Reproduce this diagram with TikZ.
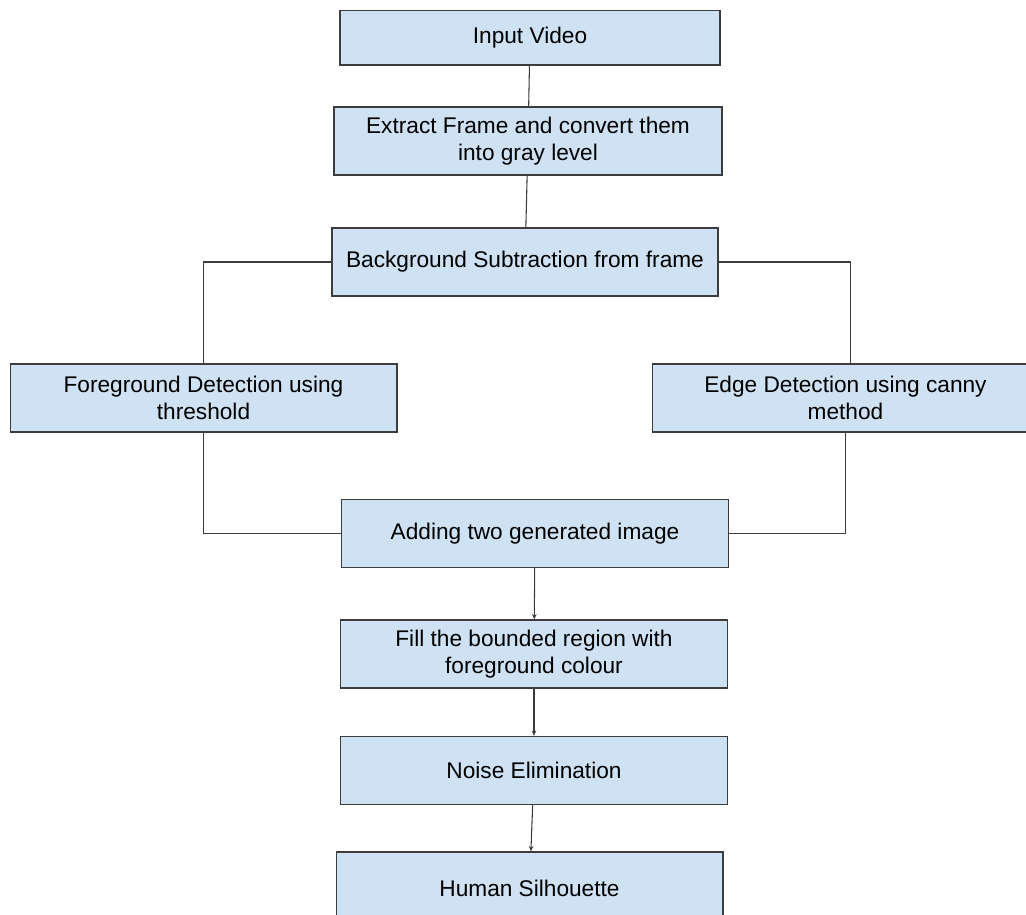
\documentclass[tikz,border=0pt]{standalone}
\usepackage{fontspec}
\setmainfont{Liberation Sans}
\usetikzlibrary{arrows.meta,positioning,shapes}
\definecolor{boxblue}{HTML}{CFE2F3}
\definecolor{linegray}{HTML}{3C3C3C}

\begin{document}
\begin{tikzpicture}[x=0.75pt,y=-0.75pt,
    stepbox/.style={rectangle, draw=linegray, fill=boxblue, line width=1pt,
      align=center, inner sep=0pt, minimum width=290pt, minimum height=51pt,
      font=\fontsize{17}{20}\selectfont},
    link/.style={draw=linegray, line width=0.8pt},
    flow/.style={link, -{Stealth[length=4pt,width=3.5pt]}}]
  \useasboundingbox (0,0) rectangle (1026,915);
  \clip (0,0) rectangle (1026,915);
  % boxes
  \node[stepbox, minimum width=285pt, minimum height=41pt] (input) at (530,37.5) {Input Video};
  \node[stepbox, minimum width=291pt] (extract) at (528,141) {Extract Frame and convert them\\into gray level};
  \node[stepbox, minimum width=289.5pt] (bgsub) at (525,262) {Background Subtraction from frame};
  \node[stepbox] (fg) at (203.5,398) {Foreground Detection using\\threshold};
  \node[stepbox] (edgedet) at (845.5,398) {Edge Detection using canny\\method};
  \node[stepbox] (add) at (535,533.5) {Adding two generated image};
  \node[stepbox] (fill) at (534,654) {Fill the bounded region with\\foreground colour};
  \node[stepbox] (noise) at (534,770.5) {Noise Elimination};
  \node[stepbox, minimum height=54pt] (human) at (529.5,888) {Human Silhouette};
  % connectors
  \draw[link] (input) -- (extract);
  \draw[link] (extract) -- (bgsub);
  \draw[link] (bgsub.west) -| (fg.north);
  \draw[link] (bgsub.east) -| ([xshift=3.5pt]edgedet.north);
  \draw[link] (fg.south) |- (add.west);
  \draw[link] (edgedet.south) |- (add.east);
  \draw[flow] (add) -- (fill);
  \draw[flow] (fill) -- (noise);
  \draw[flow] (noise) -- (human);
\end{tikzpicture}
\end{document}
